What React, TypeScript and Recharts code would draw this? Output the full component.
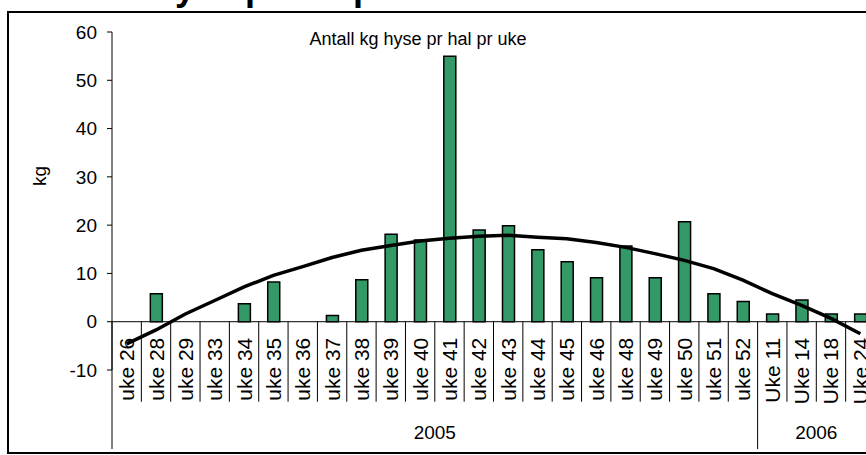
import React from 'react';
import { ComposedChart, Bar, Line, XAxis, YAxis, ReferenceLine } from 'recharts';

// Uker med fangst (2005 og 2006)
const weeks = [
    'uke 26', 'uke 28', 'uke 29', 'uke 33', 'uke 34', 'uke 35', 'uke 36', 'uke 37', 'uke 38',
    'uke 39', 'uke 40', 'uke 41', 'uke 42', 'uke 43', 'uke 44', 'uke 45', 'uke 46', 'uke 48',
    'uke 49', 'uke 50', 'uke 51', 'uke 52', 'Uke 11', 'Uke 14', 'Uke 18', 'Uke 24',
];
const kgPerHal = [
    0, 5.8, 0, 0, 3.7, 8.2, 0, 1.3, 8.7,
    18.1, 16.9, 55, 19.0, 19.9, 14.9, 12.4, 9.1, 15.7,
    9.1, 20.7, 5.8, 4.2, 1.6, 4.5, 1.6, 1.6,
];
const trend = [
    -4.6, -1.7, 1.6, 4.4, 7.2, 9.6, 11.4, 13.3, 14.8,
    15.8, 16.7, 17.3, 17.7, 17.9, 17.5, 17.2, 16.4, 15.4,
    14.1, 12.7, 11.0, 8.6, 5.8, 3.4, 0.7, -2.5,
];
const yearGroups = [
    { label: '2005', start: 0, count: 22 },
    { label: '2006', start: 22, count: 4 },
];
const yTicks = [-10, 0, 10, 20, 30, 40, 50, 60];
const Y_MIN = -10;
const Y_MAX = 60;

const data = weeks.map((week, i) => ({ week, kg: kgPerHal[i], trend: trend[i] }));

const FONT = '"Liberation Sans", Arial, sans-serif';
const W = 880;
const H = 455;
const MARGIN = { top: 32, right: 5, bottom: 0, left: 0 };
const Y_AXIS_W = 112;
const X_AXIS_H = 85;
const PLOT_H = H - MARGIN.top - MARGIN.bottom - X_AXIS_H;
const PLOT_W = W - MARGIN.left - MARGIN.right - Y_AXIS_W;
const BW = PLOT_W / weeks.length;
const ZERO_Y = MARGIN.top + (PLOT_H * Y_MAX) / (Y_MAX - Y_MIN);

const WeekTick = (props: any) => {
    const { x, index, payload } = props;
    const left = x - BW / 2;
    const group = yearGroups.find((g) => g.start === index);
    const tx = x + 7.5;
    const ty = ZERO_Y + 16;
    return (
        <g>
            <line x1={left} x2={left} y1={ZERO_Y} y2={group ? 449 : ZERO_Y + 80} stroke="#000" strokeWidth={1} />
            {index === weeks.length - 1 && (
                <line x1={x + BW / 2} x2={x + BW / 2} y1={ZERO_Y} y2={449} stroke="#000" strokeWidth={1} />
            )}
            <text
                x={tx}
                y={ty}
                transform={`rotate(-90 ${tx} ${ty})`}
                textAnchor="end"
                fontSize={21}
                fontFamily={FONT}
                fill="#000"
            >
                {payload.value}
            </text>
            {group && (
                <text
                    x={left + (group.count * BW) / 2}
                    y={439}
                    textAnchor="middle"
                    fontSize={19}
                    fontFamily={FONT}
                    fill="#000"
                >
                    {group.label}
                </text>
            )}
        </g>
    );
};

const App: React.FC = () => {
    return (
        <div style={{ position: 'absolute', left: 0, top: 0, width: 866, height: 455, overflow: 'hidden', background: '#fff' }}>
            <ComposedChart width={W} height={H} data={data} margin={MARGIN}>
                <XAxis
                    dataKey="week"
                    interval={0}
                    height={X_AXIS_H}
                    axisLine={false}
                    tickLine={false}
                    tick={(p: any) => <WeekTick {...p} />}
                />
                <YAxis
                    width={Y_AXIS_W}
                    domain={[Y_MIN, Y_MAX]}
                    ticks={yTicks}
                    interval={0}
                    allowDataOverflow
                    axisLine={{ stroke: '#000' }}
                    tickLine={{ stroke: '#000' }}
                    tickSize={5}
                    tickMargin={10}
                    tick={{ fill: '#000', fontSize: 19, fontFamily: FONT }}
                />
                <ReferenceLine y={0} stroke="#000" strokeWidth={1} />
                <Bar
                    dataKey="kg"
                    barSize={12}
                    fill="#339966"
                    stroke="#000"
                    strokeWidth={1.5}
                    isAnimationActive={false}
                />
                <Line
                    dataKey="trend"
                    type="linear"
                    stroke="#000"
                    strokeWidth={3.5}
                    dot={false}
                    activeDot={false}
                    isAnimationActive={false}
                />
            </ComposedChart>
            <svg width={866} height={455} style={{ position: 'absolute', left: 0, top: 0, pointerEvents: 'none' }}>
                <text x={149} y={0} fontSize={36} fontWeight="bold" fontFamily={FONT} fill="#000">
                    Hyse pr hal pr uke
                </text>
                <text x={418} y={45} textAnchor="middle" fontSize={18} fontFamily={FONT} fill="#000">
                    Antall kg hyse pr hal pr uke
                </text>
                <text x={46} y={176} transform="rotate(-90 46 176)" textAnchor="middle" fontSize={19} fontFamily={FONT} fill="#000">
                    kg
                </text>
            </svg>
            <div
                style={{
                    position: 'absolute',
                    left: 7,
                    top: 11,
                    width: 900,
                    height: 443,
                    boxSizing: 'border-box',
                    border: '2px solid #000',
                    pointerEvents: 'none',
                }}
            />
        </div>
    );
};

export default App;
